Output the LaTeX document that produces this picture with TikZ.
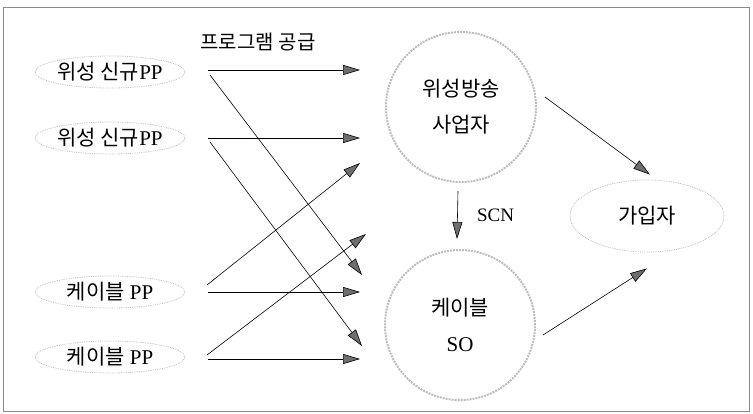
\documentclass[tikz,border=0pt]{standalone}
\usepackage{fontspec}
\setmainfont{Liberation Serif}
\newfontfamily\kr{Noto Sans CJK KR}
\usepackage{tikz}
\usetikzlibrary{arrows.meta,positioning,shapes.geometric,calc}
\definecolor{KRFrame}{HTML}{8A8A8A}
\definecolor{KRDot}{HTML}{BDBDBD}
\definecolor{KRHead}{HTML}{6E6E6E}

\begin{document}
\begin{tikzpicture}[x=1pt,y=-1pt,
  pp/.style={ellipse,draw=KRDot,densely dotted,line width=0.8pt,minimum width=150pt,minimum height=32pt,inner sep=0pt,font=\fontsize{21}{24}\selectfont},
  org/.style={circle,draw=KRDot,densely dotted,line width=2pt,minimum size=150pt,inner sep=0pt,align=center,font=\fontsize{21}{36}\selectfont},
  flow/.style={-{Triangle[length=17pt,width=10pt,fill=KRHead]},line width=0.6pt}]
  \useasboundingbox (0,0) rectangle (753,413);
  \draw[KRFrame,line width=0.8pt] (3,7) rectangle (749,411);
  % program providers
  \node[pp] (s1) at (110,72) {{\kr 위성 신규}PP};
  \node[pp] (s2) at (110,138) {{\kr 위성 신규}PP};
  \node[pp] (c1) at (110,292) {{\kr 케이블} PP};
  \node[pp] (c2) at (110,357) {{\kr 케이블} PP};
  \node[font=\fontsize{20}{24}\selectfont] (supply) at (258,42) {\kr 프로그램 공급};
  % operators and subscribers
  \node[org] (sat) at (461,107) {{\kr 위성방송}\\{\kr 사업자}};
  \node[org] (so) at (460,325) {{\kr 케이블}\\SO};
  \node[ellipse,draw=KRDot,densely dotted,line width=0.8pt,minimum width=154pt,minimum height=72pt,font=\fontsize{21}{24}\selectfont] (sub) at (647,216) {\kr 가입자};
  % arrow ends
  \coordinate (s1a) at (208,70);  \coordinate (s1b) at (210,75);
  \coordinate (s2a) at (208,138); \coordinate (s2b) at (210,142);
  \coordinate (c1a) at (207,285); \coordinate (c1b) at (208,292);
  \coordinate (c2a) at (207,355); \coordinate (c2b) at (208,359);
  \coordinate (t1) at (360,70);   \coordinate (t2) at (360,138);
  \coordinate (t3) at (360,163);  \coordinate (t4) at (366,234);
  \coordinate (t5) at (362,275);  \coordinate (t6) at (360,292);
  \coordinate (t7) at (362,346);  \coordinate (t8) at (360,359);
  \draw[flow] (s1a) -- (t1);
  \draw[flow] (s1b) -- (t5);
  \draw[flow] (s2a) -- (t2);
  \draw[flow] (s2b) -- (t7);
  \draw[flow] (c1a) -- (t3);
  \draw[flow] (c1b) -- (t6);
  \draw[flow] (c2a) -- (t4);
  \draw[flow] (c2b) -- (t8);
  % to subscribers
  \draw[flow] ($(sat.center)+(84,-10)$) -- ($(sub.north)+(3,-5)$);
  \draw[flow] ($(so.center)+(83,10)$) -- ($(sub.south)+(0,16)$);
  \draw[flow] ($(sat.south)+(-3,8)$) -- node[right=16pt,font=\fontsize{19}{22}\selectfont]{SCN} ($(so.north)+(-3,-10)$);
\end{tikzpicture}
\end{document}
